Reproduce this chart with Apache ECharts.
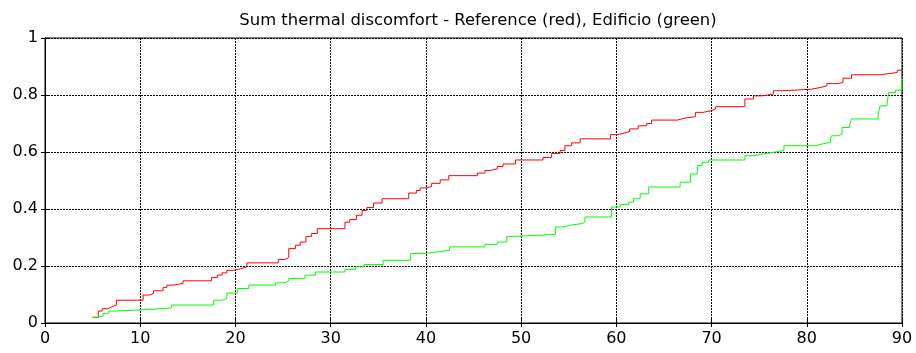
<!DOCTYPE html>
<html>
<head>
<meta charset="utf-8">
<script src="https://cdn.jsdelivr.net/npm/echarts@6/dist/echarts.min.js"></script>
<style>
  html, body { margin: 0; padding: 0; background: #fff; }
  #chart-wrap { width: 916px; height: 353px; }
</style>
</head>
<body>
<div id="chart-wrap"></div>
<script>
var chartDom = document.getElementById('chart-wrap');
var myChart = echarts.init(chartDom);

var titleText = 'Sum thermal discomfort - Reference (red), Edificio (green)';

// Reference (red)
var refX = [5, 5.6, 6, 6.6, 7, 7.5, 10.3, 10.9, 11.4, 12.4, 12.8, 13.5, 14.5, 17.5, 18.1, 18.6, 19.1, 19.8, 20.5, 21.2,
  24.5, 25.2, 25.6, 26.3, 26.8, 27.4, 28, 28.6, 31.5, 32, 32.7, 33.3, 33.8, 34.5, 35.4, 38.2, 39, 39.4, 40.1, 40.6,
  41.5, 42.4, 45.4, 46.2, 46.7, 47.5, 48.1, 49.4, 52.3, 53.2, 54.1, 54.6, 55.3, 56.2, 59.4, 60.1, 60.7, 61.4, 62.3, 63.2,
  63.7, 66.4, 67.2, 68.3, 69.1, 70, 70.4, 73.5, 74.4, 75.3, 76.5, 77.4, 80.4, 81.4, 82.1, 83.3, 83.8, 84.7, 87.7, 88.6,
  89.5, 90];
var refY = [0.02, 0.042, 0.05, 0.057, 0.063, 0.08, 0.098, 0.104, 0.113, 0.125, 0.133, 0.139, 0.148, 0.16, 0.168, 0.176, 0.185, 0.19, 0.197, 0.211,
  0.223, 0.23, 0.261, 0.273, 0.284, 0.304, 0.314, 0.331, 0.354, 0.363, 0.378, 0.395, 0.405, 0.421, 0.436, 0.456, 0.465, 0.474, 0.479, 0.49,
  0.502, 0.517, 0.526, 0.535, 0.541, 0.549, 0.558, 0.572, 0.581, 0.595, 0.605, 0.622, 0.632, 0.646, 0.661, 0.665, 0.672, 0.681, 0.692, 0.7,
  0.712, 0.719, 0.724, 0.739, 0.745, 0.751, 0.759, 0.786, 0.797, 0.803, 0.815, 0.82, 0.826, 0.832, 0.84, 0.844, 0.859, 0.871, 0.875, 0.879,
  0.887, 0.89];

// Edificio (green)
var edX = [5, 5.5, 6.1, 6.7, 7.5, 11.2, 13.3, 17.7, 18.6, 19.1, 20.2, 21.4, 24.2, 25.2, 25.6, 27.3, 28.4, 31.5, 32.6, 33.5,
  35.5, 38.4, 39.9, 41.1, 42.5, 46.2, 47.5, 48.5, 49.4, 53.6, 54.4, 55.1, 56.4, 56.7, 59.5, 60.4, 61.3, 61.8, 62.5, 63.4,
  66.7, 67.8, 68.5, 69, 69.7, 73.5, 74.4, 75.4, 76.5, 77.6, 80.9, 81.6, 82.5, 82.6, 83.3, 83.7, 84.5, 84.7, 87.5, 87.7,
  88.4, 88.6, 89.3, 90];
var edY = [0.02, 0.024, 0.034, 0.042, 0.048, 0.053, 0.063, 0.08, 0.086, 0.105, 0.121, 0.133, 0.141, 0.148, 0.156, 0.168, 0.179, 0.188, 0.197, 0.205,
  0.22, 0.244, 0.249, 0.255, 0.267, 0.276, 0.284, 0.304, 0.311, 0.337, 0.343, 0.349, 0.354, 0.372, 0.407, 0.416, 0.424, 0.436, 0.453, 0.477,
  0.494, 0.523, 0.552, 0.564, 0.572, 0.587, 0.593, 0.599, 0.605, 0.622, 0.628, 0.634, 0.646, 0.657, 0.663, 0.686, 0.696, 0.716, 0.733, 0.762,
  0.768, 0.809, 0.817, 0.86];

var xTicks = { min: 0, max: 90, interval: 10 };
var yTicks = { min: 0, max: 1, interval: 0.2 };

function pairs(xs, ys) {
  return xs.map(function (x, i) { return [x, ys[i]]; });
}

var gridLine = { show: true, lineStyle: { color: '#000', type: [2, 1], width: 1 } };
var labelFont = { color: '#000', fontSize: 16, fontFamily: 'DejaVu Sans' };

var option = {
  animation: false,
  title: {
    text: titleText,
    left: 473,
    textAlign: 'center',
    top: 8,
    textStyle: { fontSize: 16.4, fontWeight: 'normal', color: '#000', fontFamily: 'DejaVu Sans' }
  },
  grid: {
    left: 45,
    right: 14,
    top: 38,
    bottom: 30,
    show: true,
    borderColor: '#000',
    borderWidth: 1
  },
  xAxis: [{
    type: 'value',
    min: xTicks.min,
    max: xTicks.max,
    interval: xTicks.interval,
    axisLine: { show: true, onZero: false, lineStyle: { color: '#000', width: 1 } },
    axisTick: { show: true, inside: true, length: 4, lineStyle: { color: '#000' } },
    axisLabel: Object.assign({ margin: 8 }, labelFont),
    splitLine: gridLine
  }, {
    type: 'value',
    position: 'top',
    min: xTicks.min,
    max: xTicks.max,
    interval: xTicks.interval,
    axisLine: { show: true, lineStyle: { color: '#000' } },
    axisTick: { show: true, inside: true, length: 4, lineStyle: { color: '#000' } },
    axisLabel: { show: false },
    splitLine: { show: false }
  }],
  yAxis: [{
    type: 'value',
    min: yTicks.min,
    max: yTicks.max,
    interval: yTicks.interval,
    axisLine: { show: true, onZero: false, lineStyle: { color: '#000', width: 1 } },
    axisTick: { show: true, inside: true, length: 4, lineStyle: { color: '#000' } },
    axisLabel: Object.assign({ margin: 7 }, labelFont),
    splitLine: gridLine
  }, {
    type: 'value',
    position: 'right',
    min: yTicks.min,
    max: yTicks.max,
    interval: yTicks.interval,
    axisLine: { show: true, lineStyle: { color: '#000' } },
    axisTick: { show: true, inside: true, length: 4, lineStyle: { color: '#000' } },
    axisLabel: { show: false },
    splitLine: { show: false }
  }],
  series: [
    {
      name: 'Reference',
      type: 'line',
      step: 'end',
      data: pairs(refX, refY),
      showSymbol: false,
      lineStyle: { color: '#ff0000', width: 1 },
      itemStyle: { color: '#ff0000' },
      z: 3
    },
    {
      name: 'Edificio',
      type: 'line',
      step: 'end',
      data: pairs(edX, edY),
      showSymbol: false,
      lineStyle: { color: '#00ff00', width: 1 },
      itemStyle: { color: '#00ff00' },
      z: 4
    }
  ]
};

option && myChart.setOption(option);
window.addEventListener('resize', function () {
  myChart.resize();
});
</script>
</body>
</html>
